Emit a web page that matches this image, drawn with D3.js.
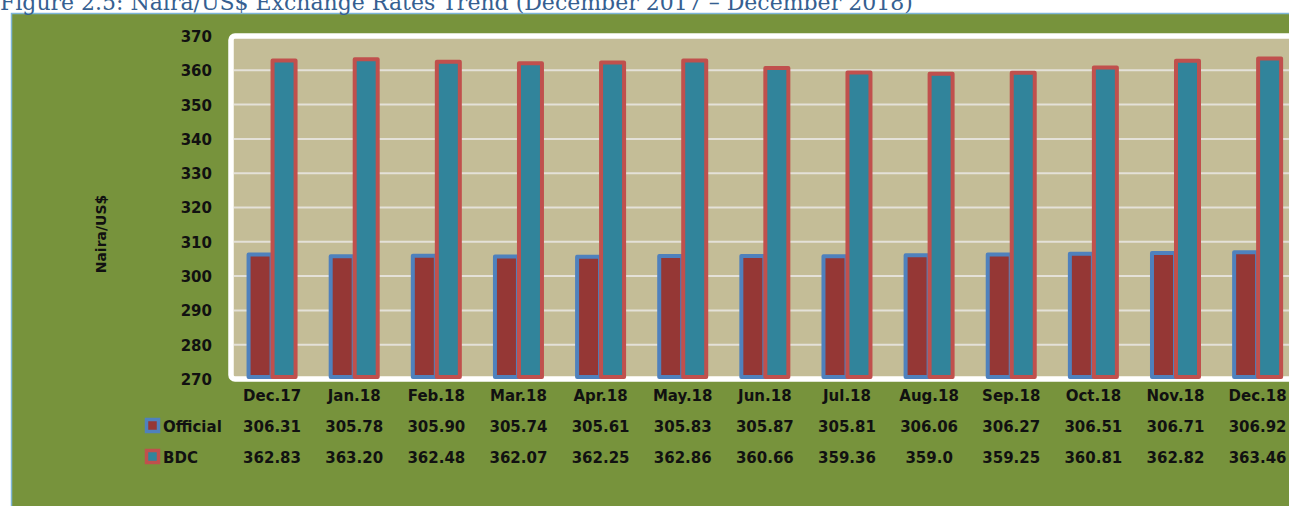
<!DOCTYPE html>
<html><head><meta charset="utf-8">
<script src="https://cdn.jsdelivr.net/npm/d3@7"></script>
<style>html,body{margin:0;padding:0;background:#fff;overflow:hidden}</style>
</head><body>
<script>
const categories = ["Dec.17","Jan.18","Feb.18","Mar.18","Apr.18","May.18","Jun.18","Jul.18","Aug.18","Sep.18","Oct.18","Nov.18","Dec.18"];
const official = [306.31,305.78,305.90,305.74,305.61,305.83,305.87,305.81,306.06,306.27,306.51,306.71,306.92];
const bdc = [362.83,363.20,362.48,362.07,362.25,362.86,360.66,359.36,359.0,359.25,360.81,362.82,363.46];
const officialLabels = ["306.31","305.78","305.90","305.74","305.61","305.83","305.87","305.81","306.06","306.27","306.51","306.71","306.92"];
const bdcLabels = ["362.83","363.20","362.48","362.07","362.25","362.86","360.66","359.36","359.0","359.25","360.81","362.82","363.46"];
const seriesNames = ["Official","BDC"];
const yTicks = [270,280,290,300,310,320,330,340,350,360,370];
const title = "Figure 2.5: Naira/US$ Exchange Rates Trend (December 2017 \u2013 December 2018)";
const yTitle = "Naira/US$";

const W = 1289, H = 506;
const svg = d3.select("body").append("svg").attr("width", W).attr("height", H);
const font = "'DejaVu Sans', sans-serif";

// green chart area
svg.append("rect").attr("x", 11.5).attr("y", 13.5).attr("width", W).attr("height", H)
  .attr("fill", "#77933c").attr("stroke", "#7fb6d8").attr("stroke-width", 1.5);

// title (partly above the visible top edge, as in the reference)
svg.append("text").attr("x", 0).attr("y", 10).text(title)
  .attr("font-family", "'DejaVu Serif', serif").attr("font-size", 22).attr("fill", "#365f91");

const plotL = 231, band = 82.13;
const x = d3.scaleBand().domain(categories).range([plotL, plotL + band * categories.length]).padding(0);
const y = d3.scaleLinear().domain([270, 370]).range([379, 36]);
const xs = d3.scaleBand().domain(seriesNames).range([-24, 24]);

// plot area
svg.append("rect").attr("x", plotL).attr("y", y(370)).attr("width", band * categories.length)
  .attr("height", y(270) - y(370)).attr("rx", 4)
  .attr("fill", "#c4bd97").attr("stroke", "#ffffff").attr("stroke-width", 5.5);

// gridlines
svg.append("g").selectAll("line").data(yTicks.filter(t => t > 270 && t < 370)).join("line")
  .attr("x1", plotL + 3).attr("x2", W).attr("y1", d => y(d)).attr("y2", d => y(d))
  .attr("stroke", "#e4e1d8").attr("stroke-width", 2);

// y axis labels
const yAxis = d3.axisLeft(y).tickValues(yTicks).tickSize(0).tickPadding(0);
const ya = svg.append("g").attr("transform", "translate(212,0)").call(yAxis);
ya.select(".domain").remove();
ya.selectAll("text").attr("font-family", font).attr("font-weight", "bold").attr("font-size", 15)
  .attr("fill", "#111").attr("dy", "0.36em");

// y title
svg.append("text").attr("transform", "translate(106,234) rotate(-90)").attr("text-anchor", "middle")
  .text(yTitle).attr("font-family", font).attr("font-weight", "bold").attr("font-size", 14).attr("fill", "#111");

const series = [
  {name: "Official", values: official, fill: "#953735", stroke: "#4f81bd"},
  {name: "BDC", values: bdc, fill: "#31849b", stroke: "#c0504d"}
];

series.forEach(s => {
  svg.append("g").selectAll("rect").data(categories).join("rect")
    .attr("x", (c) => x(c) + x.bandwidth() / 2 + xs(s.name) + 0.5)
    .attr("width", xs.bandwidth() - 1)
    .attr("y", (c, i) => y(s.values[i]))
    .attr("height", (c, i) => y(270) - y(s.values[i]) - 2)
    .attr("fill", s.fill).attr("stroke", s.stroke).attr("stroke-width", 4)
    .attr("stroke-linejoin", "round");
});

// category axis labels
const xAxis = d3.axisBottom(x).tickSize(0).tickPadding(0);
const xa = svg.append("g").attr("transform", "translate(0,401)").call(xAxis);
xa.select(".domain").remove();
xa.selectAll("text").attr("font-family", font).attr("font-weight", "bold").attr("font-size", 15)
  .attr("fill", "#111").attr("dy", 0);

// data table rows
const rows = [
  {name: "Official", labels: officialLabels, yb: 432, fill: "#953735", stroke: "#4f81bd"},
  {name: "BDC", labels: bdcLabels, yb: 463, fill: "#31849b", stroke: "#c0504d"}
];
rows.forEach(r => {
  svg.append("g").selectAll("text").data(categories).join("text")
    .attr("x", c => x(c) + x.bandwidth() / 2).attr("y", r.yb).attr("text-anchor", "middle")
    .text((c, i) => r.labels[i])
    .attr("font-family", font).attr("font-weight", "bold").attr("font-size", 15).attr("fill", "#111");
  svg.append("rect").attr("x", 146.5).attr("y", r.yb - 12.5).attr("width", 12).attr("height", 12)
    .attr("fill", r.fill).attr("stroke", r.stroke).attr("stroke-width", 3.5);
  svg.append("text").attr("x", 163).attr("y", r.yb).text(r.name)
    .attr("font-family", font).attr("font-weight", "bold").attr("font-size", 15).attr("fill", "#111");
});
</script>
</body></html>
